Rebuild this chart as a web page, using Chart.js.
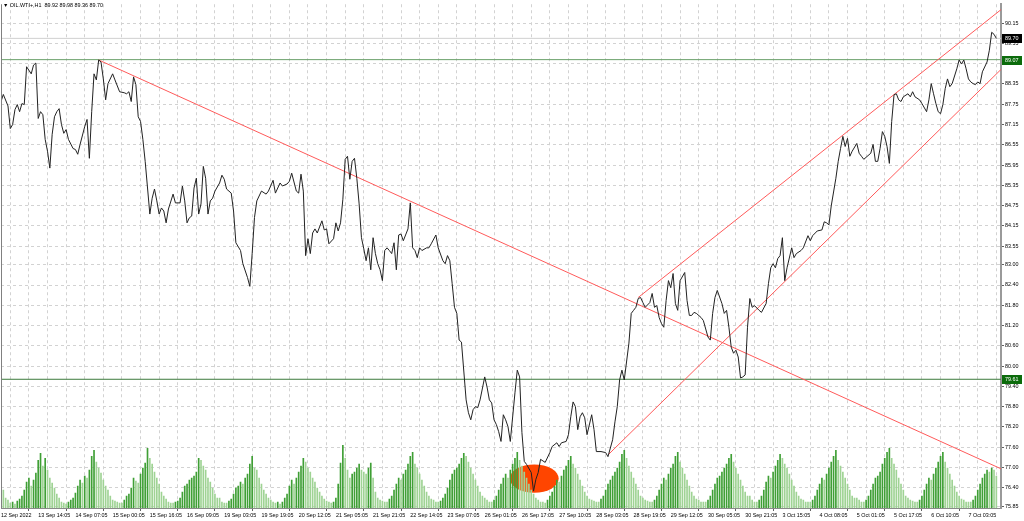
<!DOCTYPE html>
<html><head><meta charset="utf-8">
<script src="https://cdn.jsdelivr.net/npm/chart.js@4.4.0/dist/chart.umd.min.js"></script>
<style>html,body{margin:0;padding:0;background:#fff;overflow:hidden}canvas{display:block}</style>
</head><body>
<canvas id="c" width="1024" height="521"></canvas>
<script>
const headerText = '\u25BC OIL.WTI+,H1  89.92 89.98 89.36 89.70';
const timeLabels = ['12 Sep 2022','13 Sep 14:05','14 Sep 07:05','15 Sep 00:05','15 Sep 16:05','16 Sep 09:05','19 Sep 03:05','19 Sep 19:05','20 Sep 12:05','21 Sep 05:05','21 Sep 21:05','22 Sep 14:05','23 Sep 07:05','26 Sep 01:05','26 Sep 17:05','27 Sep 10:05','28 Sep 03:05','28 Sep 19:05','29 Sep 12:05','30 Sep 05:05','30 Sep 21:05','3 Oct 15:05','4 Oct 08:05','5 Oct 01:05','5 Oct 17:05','6 Oct 10:05','7 Oct 03:05'];
const barsPerLabel = 16;
const priceTicks = [90.15,89.55,88.95,88.35,87.75,87.15,86.55,85.95,85.35,84.75,84.15,83.55,83.00,82.40,81.80,81.20,80.60,80.00,79.40,78.80,78.20,77.60,77.00,76.40,75.85];

// hour-bar index (0 = first visible H1 bar) and close price
const priceHour = [0,1,3,4,5,6,7,8,9,10,11,13,14,15,16,17,18,19,20,21,22,23,24,25,26,27,28,29,31,32,33,34,36,37,38,39,40,41,42,43,44,45,46,48,49,51,53,54,55,56,57,58,59,60,61,62,64,65,66,67,68,69,70,71,72,74,75,77,78,79,80,81,82,83,84,85,86,87,88,89,90,91,92,94,95,96,97,99,100,101,103,104,106,107,108,109,110,112,114,115,117,118,120,121,123,124,125,127,128,129,130,131,132,133,134,135,136,138,139,140,141,143,144,145,146,147,148,149,150,151,152,153,154,155,156,157,158,159,160,161,162,163,164,165,166,167,168,169,170,171,172,173,175,176,177,178,179,180,181,183,184,185,187,188,190,191,192,193,194,195,196,197,198,200,201,202,203,204,205,206,208,209,210,211,212,213,214,215,216,217,218,219,221,222,223,224,225,226,228,229,230,231,232,234,236,237,239,240,241,243,244,245,246,247,248,249,250,251,252,254,255,256,258,260,261,263,264,265,266,267,268,270,271,272,273,274,275,276,277,279,280,281,282,283,284,285,286,287,288,289,290,291,292,294,295,296,297,298,299,301,302,304,305,306,307,308,310,311,312,313,314,315,316,317,318,319,320,321,322,323,324,326,327,329,330,331,332,333,334,335,336,337,338,340,341,342,344,345,347,348,349,351,353,354,355,356,357,359,360,361,362,363,364,365,366,368,369,370,371,372,374,375,376,377,378,379,380,381,382,383,384,385,386,387,388,390,391,392,393,395,396,398,399,400,401,402,403,404,405,406,407,408,409,411,412,413,414,415,416,417,418,419,420,421,422,424,425,426,427,428];
const priceClose = [87.83,88.04,87.70,87.03,87.15,87.59,87.74,87.53,87.77,87.74,88.86,88.65,88.91,88.97,87.33,87.53,87.44,86.71,86.36,85.86,86.86,87.38,87.53,87.62,87.15,86.89,87.00,86.71,86.44,86.41,86.27,86.56,87.09,87.30,86.15,87.53,88.65,88.47,89.06,89.00,88.50,87.88,88.36,88.65,88.47,88.12,88.09,88.06,88.12,87.83,88.56,88.33,87.38,87.24,86.71,86.06,84.50,84.97,85.24,84.89,84.50,84.68,84.59,84.24,84.65,85.09,84.83,84.83,85.33,84.89,84.24,84.39,84.44,85.27,85.56,84.50,84.80,85.91,85.56,84.50,84.89,84.97,85.18,85.42,85.65,85.53,85.24,85.12,84.59,83.65,83.42,83.03,82.62,82.36,83.33,84.40,84.89,85.18,85.09,85.18,85.50,85.12,85.42,85.33,85.39,85.47,85.71,85.18,85.12,85.68,85.18,83.27,83.77,83.33,83.94,84.06,83.94,84.30,84.03,84.06,83.62,83.77,84.24,84.00,84.24,84.94,86.12,86.21,85.53,86.06,86.15,85.56,84.80,83.80,83.47,83.12,83.50,82.85,83.80,83.33,83.03,82.85,82.53,83.42,83.50,83.42,83.33,83.65,82.85,83.88,83.91,83.71,84.06,84.83,83.50,83.42,83.21,83.50,83.42,83.50,83.50,83.62,83.88,83.50,83.12,83.03,83.27,83.12,82.44,81.74,81.56,80.77,80.71,79.00,78.62,78.41,78.71,78.80,78.77,79.00,79.68,79.38,79.00,78.91,78.41,78.27,78.06,77.77,78.56,78.41,78.21,77.77,79.21,79.88,79.68,78.03,77.18,77.09,76.85,76.30,76.65,76.85,77.24,77.15,77.44,77.62,77.73,77.62,77.73,77.77,77.97,78.50,78.94,78.80,78.12,78.50,78.62,78.47,77.97,78.56,78.12,77.47,77.47,77.44,77.32,77.82,78.35,78.80,79.59,79.88,79.59,80.68,81.56,81.65,81.74,82.00,82.03,81.88,81.74,81.88,82.15,81.74,81.79,81.44,81.26,81.15,81.94,82.53,82.32,82.74,81.85,81.65,82.53,82.77,81.94,81.50,81.50,81.59,81.56,81.44,81.35,80.86,80.77,81.56,82.03,82.24,81.85,81.56,81.65,81.15,80.56,80.38,80.47,80.27,79.65,79.68,79.74,81.15,82.00,81.74,81.79,81.65,81.59,81.85,82.44,82.91,83.03,82.91,83.18,83.27,83.80,82.53,82.91,83.50,83.21,83.33,83.42,83.50,83.86,83.71,83.86,84.00,84.03,84.27,84.24,84.18,84.74,85.56,86.06,86.44,86.80,86.50,86.74,86.21,86.36,86.59,86.30,86.21,86.12,86.18,86.30,86.56,86.06,86.06,86.44,86.94,86.80,86.50,86.00,87.24,88.03,88.06,87.88,87.83,87.97,88.06,87.97,88.12,87.97,87.88,87.77,87.53,87.88,88.36,88.06,87.77,87.53,87.47,87.74,88.21,88.50,88.27,88.36,88.80,89.06,88.94,89.06,88.80,88.50,88.41,88.36,88.33,88.41,88.36,88.71,89.00,89.35,89.88,89.82,89.70];

// tick volume per hour bar (hundreds of ticks), bar 0 onward, one row per trading day
const tickVolume = [
 28,18,10,
 8,5,6,4,7,9,12,18,26,30,22,28,35,48,55,42,50,38,30,25,20,14,10,
 6,5,4,6,8,10,15,22,28,25,32,30,38,52,58,46,40,35,28,22,18,12,8,
 7,6,5,5,8,12,14,20,30,27,25,34,40,45,60,50,44,36,30,24,16,12,9,
 6,5,5,6,7,10,16,22,24,28,30,32,36,50,48,42,38,30,26,20,14,10,
 10,6,5,5,7,9,14,20,22,26,24,30,34,44,52,40,38,30,24,18,14,10,8,
 6,5,6,4,6,10,14,22,28,24,30,36,42,50,46,40,36,30,26,20,16,12,9,
 7,6,5,6,10,24,45,63,50,38,30,34,36,40,44,38,36,34,40,45,30,16,10,
 8,7,6,6,9,12,18,24,30,28,34,38,44,52,56,44,40,34,28,22,16,12,9,
 8,6,6,7,10,14,20,28,34,38,40,44,50,55,52,46,40,34,28,22,16,12,
 10,8,6,6,8,12,18,24,30,34,30,38,44,50,56,48,42,36,30,24,18,14,10,
 8,6,6,5,8,12,16,22,28,26,32,38,42,48,52,44,40,34,28,22,16,12,9,
 8,7,6,6,9,12,18,24,28,32,36,40,46,54,58,50,42,36,30,24,18,12,10,
 8,7,6,6,8,12,18,24,30,28,34,40,44,52,56,46,40,34,28,22,16,12,9,
 8,6,6,6,8,12,18,24,30,32,36,40,44,50,54,46,40,34,28,22,16,12,
 12,8,6,6,8,12,18,26,32,30,36,42,48,54,50,44,40,34,28,22,16,12,9,
 8,6,6,6,8,12,18,24,30,28,34,40,46,52,58,48,42,36,30,24,18,12,10,
 10,8,6,6,8,12,18,24,30,32,36,44,50,56,60,50,44,38,30,24,18,12,10,
 8,7,6,6,8,12,18,24,30,28,34,40,46,52,56,46,40,34,28,22,16,12,9,
 8,6,6,6,8,12,18,24,30,34,38,36,40,38,32
];

const horizontalLevels = [89.07, 79.61];
const lastPrice = 89.70;
const trendStartHour  = [42, 274, 261];
const trendStartPrice = [89.06, 82.03, 77.37];
const trendEndHour    = [430, 430, 430];
const trendEndPrice   = [76.96, 90.55, 88.78];
const markHour = 229.3, markPrice = 76.67, markHalfHours = 10.5, markHalfPrice = 0.42;

const X_MIN = 0, X_MAX = 430, Y_MIN = 75.80, Y_MAX = 90.71;
const FONT = 'Liberation Sans, Arial, DejaVu Sans, sans-serif';
const FS = 5.4;

const xTickHours = [];
timeLabels.forEach((_, k) => { xTickHours.push(k * barsPerLabel, k * barsPerLabel + barsPerLabel / 2); });

const priceData = priceHour.map((h, i) => ({x: h, y: priceClose[i]}));
const volData = tickVolume.map((v, i) => ({x: i, y: v}));
const volColors = tickVolume.map((v, i) => (i > 0 && v > tickVolume[i - 1]) ? '#3f9f35' : '#9fd394');

const datasets = [
  {type:'bar', data: volData, yAxisID:'yv', backgroundColor: volColors, barThickness: 1, order: 6},
];
horizontalLevels.forEach((lv, i) => datasets.push({
  type:'line', data:[{x:X_MIN,y:lv},{x:X_MAX,y:lv}], borderColor: i === 0 ? '#6aa06a' : '#3c7a3c', borderWidth:1, pointRadius:0, order:5}));
datasets.push({type:'line', data:[{x:X_MIN,y:lastPrice},{x:X_MAX,y:lastPrice}], borderColor:'#d0d0d0', borderWidth:1, pointRadius:0, order:5});
trendStartHour.forEach((h, i) => datasets.push({
  type:'line', data:[{x:h,y:trendStartPrice[i]},{x:trendEndHour[i],y:trendEndPrice[i]}], borderColor:'#ff5a5a', borderWidth:1, pointRadius:0, order:3}));
datasets.push({type:'line', data: priceData, borderColor:'#222', borderWidth:1, pointRadius:0, tension:0, order:1});

const markPlugin = {
  id:'mark',
  beforeDatasetsDraw(chart) {
    const {ctx, scales:{x, y}} = chart;
    const cx = x.getPixelForValue(markHour), cy = y.getPixelForValue(markPrice);
    const rx = x.getPixelForValue(markHour + markHalfHours) - cx;
    const ry = cy - y.getPixelForValue(markPrice + markHalfPrice);
    ctx.save();
    ctx.fillStyle = '#ff4500';
    ctx.beginPath(); ctx.ellipse(cx, cy, rx, ry, 0, 0, Math.PI * 2); ctx.fill();
    ctx.restore();
  },
  afterDraw(chart) {
    const {ctx, chartArea:a, scales:{y}} = chart;
    ctx.save();
    ctx.strokeStyle = '#808080'; ctx.lineWidth = 1;
    ctx.beginPath(); ctx.moveTo(a.left + 0.5, a.top); ctx.lineTo(a.left + 0.5, a.bottom); ctx.stroke();
    ctx.font = FS + 'px ' + FONT; ctx.textBaseline = 'middle';
    const box = (val, bg) => {
      const py = Math.round(y.getPixelForValue(val));
      ctx.fillStyle = bg; ctx.fillRect(a.right + 1, py - 4, 20, 9);
      ctx.fillStyle = '#fff'; ctx.fillText(val.toFixed(2), a.right + 4, py + 0.5);
    };
    horizontalLevels.forEach(v => box(v, '#0b6b0b'));
    box(lastPrice, '#000');
    ctx.fillStyle = '#000'; ctx.textBaseline = 'top';
    ctx.fillText(headerText, 3, 3);
    ctx.restore();
  }
};

new Chart(document.getElementById('c'), {
  type:'line',
  data:{datasets},
  plugins:[markPlugin],
  options:{
    responsive:false, animation:false, devicePixelRatio:1,
    layout:{padding:{left:1, top:2, right:0, bottom:0}},
    plugins:{legend:{display:false}, tooltip:{enabled:false}},
    scales:{
      x:{type:'linear', min:X_MIN, max:X_MAX, offset:false,
        afterBuildTicks: s => { s.ticks = xTickHours.map(v => ({value:v})); },
        afterFit: s => { s.height = 13; },
        ticks:{autoSkip:false, maxRotation:0, align:'start', padding:1, color:'#000', font:{size:FS, family:FONT},
          callback: v => (v % barsPerLabel === 0) ? timeLabels[v / barsPerLabel] : ''},
        grid:{color:'#d2d2d2', lineWidth:1, drawTicks:true, tickLength:3,
          tickColor: c => (c.tick && c.tick.value % barsPerLabel === 0) ? '#606060' : 'rgba(0,0,0,0)'},
        border:{display:true, color:'#8a8a8a', width:1, dash:[3,3]}
      },
      y:{position:'right', min:Y_MIN, max:Y_MAX,
        afterBuildTicks: s => { s.ticks = priceTicks.map(v => ({value:v})); },
        afterFit: s => { s.width = 23; },
        ticks:{padding:1, color:'#000', font:{size:FS, family:FONT}, callback: v => v.toFixed(2)},
        grid:{color:'#d2d2d2', lineWidth:1, drawTicks:true, tickLength:3, tickColor:'#606060'},
        border:{display:true, color:'#9a9a9a', width:2, dash:[3,3]}
      },
      yv:{display:false, min:0, max:506}
    }
  }
});
</script>
</body></html>
